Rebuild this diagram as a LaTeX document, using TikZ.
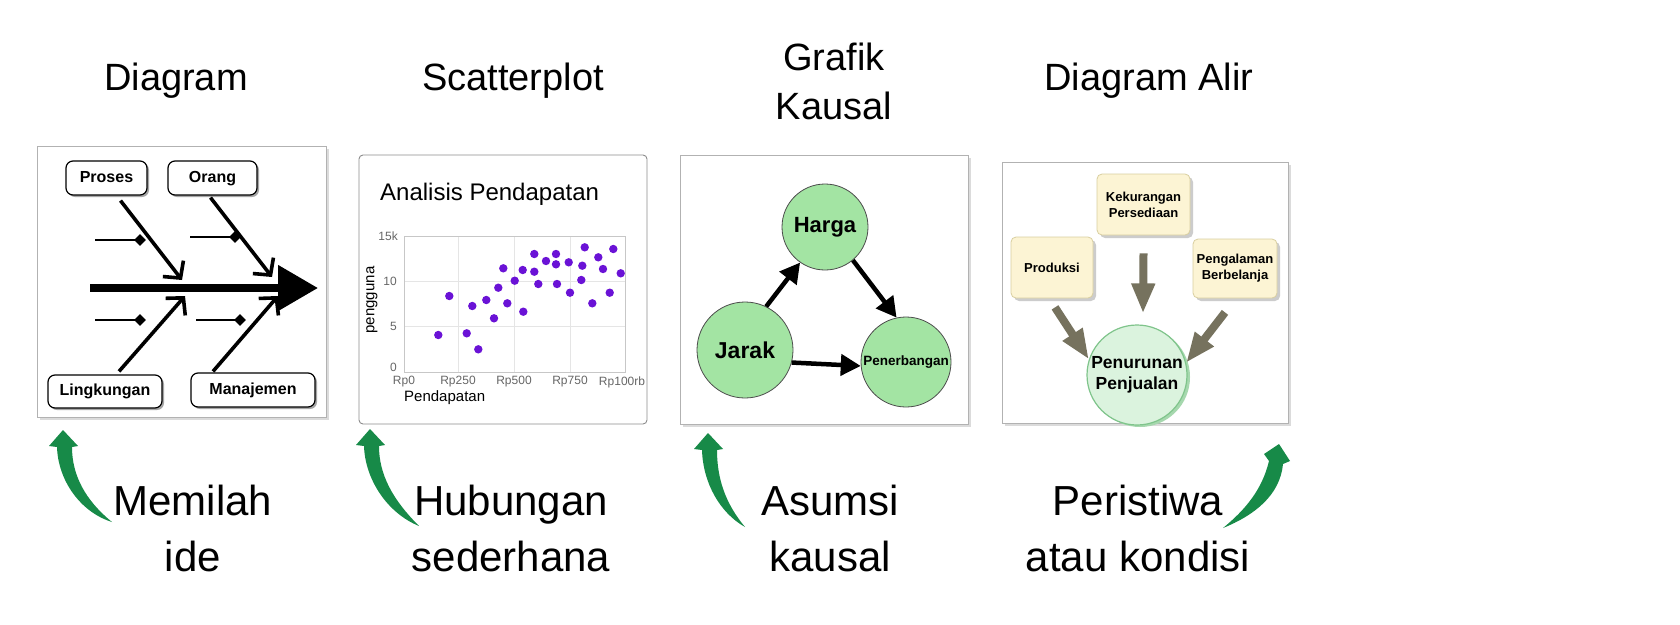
\documentclass[tikz,border=0pt]{standalone}
\usepackage{fontspec}
\setmainfont{Liberation Sans}
\usetikzlibrary{arrows.meta,shapes.geometric,calc}
\definecolor{grn}{HTML}{178A48}
\definecolor{cgreen}{HTML}{A3E4A3}
\definecolor{purp}{HTML}{6A12D6}
\definecolor{olive}{HTML}{76725E}
\definecolor{cream}{HTML}{FCF4D4}
\definecolor{creamb}{HTML}{D9CFA0}
\definecolor{pale}{HTML}{DBF3DE}
\definecolor{paleb}{HTML}{7FC48B}
\definecolor{paledark}{HTML}{A6D8AE}
\tikzset{
  ttl/.style={font=\fontsize{38}{49}\selectfont, align=center, inner sep=0pt},
  capt/.style={font=\fontsize{42}{56}\selectfont, align=center, inner sep=0pt},
  panel/.style={draw=black!30, fill=white, line width=0.8pt,
    preaction={fill=black!14, transform canvas={shift={(3pt,-3pt)}}}},
  fbox/.style={draw=black, line width=1.2pt, fill=white, rounded corners=7pt,
    font=\bfseries\fontsize{16}{18}\selectfont, inner sep=0pt, text height=11.5pt, text depth=3.5pt,
    preaction={fill=black!35, transform canvas={shift={(2pt,-2pt)}}}},
  bone/.style={line width=3.6pt, -{Straight Barb[length=12pt,width=26pt]}},
  twig/.style={line width=2pt},
  dmd/.style={diamond, fill=black, inner sep=0pt, minimum size=12pt},
  cnode/.style={circle, draw=black!70, line width=0.8pt, fill=cgreen, inner sep=0pt, font=\bfseries},
  carr/.style={line width=4.5pt, -{Triangle[length=20pt,width=21pt]}},
  ybox/.style={draw=creamb, line width=0.8pt, fill=cream, rounded corners=5pt, inner sep=0pt,
    align=center, font=\bfseries\fontsize{13}{16}\selectfont,
    preaction={fill=black!20, rounded corners=5pt, transform canvas={shift={(3pt,-3pt)}}}},
  barr/.style={olive, line width=8pt, -{Triangle[length=30pt,width=22pt]}},
  ticklbl/.style={font=\fontsize{12}{14}\selectfont, text=black!60, inner sep=0pt},
  garrow/.style={fill=grn, draw=none},
}
\begin{document}
\begin{tikzpicture}[x=1pt,y=-1pt]
\useasboundingbox[fill=white] (0,0) rectangle (1680,624);

% ---------- titles ----------
\node[ttl, anchor=base] (t1) at (176,90) {Diagram};
\node[ttl, anchor=base] (t2) at (513,90) {Scatterplot};
\node[ttl] (t3) at (834,81) {Grafik\\Kausal};
\node[ttl, anchor=base] (t4) at (1149,90) {Diagram Alir};

% ---------- panel 1: fishbone ----------
\draw[panel] (37,146) rectangle (326,417);
\node[fbox, minimum width=81pt, minimum height=34pt] (proses) at (106.5,178) {Proses};
\node[fbox, minimum width=89pt, minimum height=34pt] (orang) at (212.5,178) {Orang};
\node[fbox, minimum width=114pt, minimum height=33pt] (lingk) at (105,391.5) {Lingkungan};
\node[fbox, minimum width=124pt, minimum height=34pt] (manaj) at (253,390) {Manajemen};
\coordinate (sp1) at (90,288);
\coordinate (sp2) at (318,288);
\draw[line width=8pt, -{Triangle[length=40pt,width=44pt]}] (sp1) -- (sp2);
\coordinate (b1e) at (182,280);
\coordinate (b2e) at (272,277);
\coordinate (b3e) at (185,296);
\coordinate (b4e) at (278,296);
\draw[bone] ($(proses.south)+(14,5)$) -- (b1e);
\draw[bone] ($(orang.south)+(-2,2)$) -- (b2e);
\draw[bone] ($(lingk.north)+(14,-3)$) -- (b3e);
\draw[bone] ($(manaj.north)+(-40,-1)$) -- (b4e);
\node[dmd] (d1) at (140,240) {};
\node[dmd] (d2) at (235,237) {};
\node[dmd] (d3) at (140,320) {};
\node[dmd] (d4) at (240,320) {};
\coordinate (w1) at (95,240);
\coordinate (w2) at (190,237);
\coordinate (w3) at (95,320);
\coordinate (w4) at (196,320);
\draw[twig] (w1) -- (d1.center);
\draw[twig] (w2) -- (d2.center);
\draw[twig] (w3) -- (d3.center);
\draw[twig] (w4) -- (d4.center);

% ---------- panel 2: scatter ----------
\draw[draw=black!45, fill=white, line width=0.9pt, rounded corners=4pt] (359,155) rectangle (647,424);
\node[font=\fontsize{24}{28}\selectfont, anchor=base west, inner sep=0pt] (stitle) at (380,200) {Analisis Pendapatan};
\foreach \gx in {458,514,570} \draw[black!10, line width=0.8pt] (\gx,236) -- (\gx,372);
\foreach \gy in {281,326} \draw[black!10, line width=0.8pt] (404,\gy) -- (625,\gy);
\draw[black!22, line width=1pt] (404,236) rectangle (625,372);
\node[ticklbl, anchor=east] (y15) at (398,236) {15k};
\node[ticklbl, anchor=east] (y10) at (397,281) {10};
\node[ticklbl, anchor=east] (y5) at (397,326) {5};
\node[ticklbl, anchor=east] (y0) at (397,367) {0};
\node[ticklbl] (x0) at (404,382) {Rp0};
\node[ticklbl] (x1) at (458,382) {Rp250};
\node[ticklbl] (x2) at (514,382) {Rp500};
\node[ticklbl] (x3) at (570,382) {Rp750};
\node[ticklbl] (x4) at (622,382) {Rp100rb};
\node[font=\fontsize{15}{18}\selectfont, anchor=west, inner sep=0pt] (xlab) at (404,398) {Pendapatan};
\node[font=\fontsize{15}{18}\selectfont, rotate=90, inner sep=0pt] (ylab) at (372,300) {pengguna};
\foreach \px/\py in {438.3/335, 449.3/296, 466.7/333.3, 478.3/349.3, 472.3/306, 486.3/300,
  494/318.3, 498.3/287.7, 503.3/268.3, 507.3/303.3, 514.7/280.7, 522.7/270, 523.3/311.7,
  534.3/254, 534.3/271.7, 538.3/284, 546/261, 556/254, 556/264.3, 557/284, 568.7/262.3,
  570/292.7, 581.3/280, 582.3/265.7, 584.7/247.3, 592.3/303.3, 598.3/257.3, 603/269,
  609.7/292.7, 613.3/249, 620.7/273.3}
  \fill[purp] (\px,\py) circle (4.2);

% ---------- panel 3: causal ----------
\draw[panel] (680,155) rectangle (968,424);
\node[cnode, minimum size=86pt, font=\bfseries\fontsize{22}{24}\selectfont] (harga) at (825,227) {Harga};
\node[cnode, minimum size=96pt, font=\bfseries\fontsize{23}{26}\selectfont] (jarak) at (745,350) {Jarak};
\node[cnode, minimum size=90pt, font=\bfseries\fontsize{13.5}{15}\selectfont] (pener) at (906,362) {Penerbangan};
\draw[carr] (jarak.64) -- (harga.235);
\draw[carr] (harga.-50) -- (pener.102);
\draw[carr] (jarak.-15) -- (pener.185);

% ---------- panel 4: flow ----------
\draw[panel] (1002,162) rectangle (1288,423);
\node[ybox, minimum width=93pt, minimum height=61pt] (kek) at (1143.5,204.5) {Kekurangan\\Persediaan};
\node[ybox, minimum width=82pt, minimum height=61pt] (prod) at (1052,267.5) {Produksi};
\node[ybox, minimum width=84pt, minimum height=59pt] (peng) at (1235,268.5) {Pengalaman\\Berbelanja};
\fill[paledark] (1140,377) circle (50);
\node[circle, draw=paleb, line width=1.2pt, fill=pale, minimum size=100pt, inner sep=0pt,
  align=center, font=\bfseries\fontsize{17.5}{21}\selectfont] (penj) at (1137,375) {Penurunan\\Penjualan};
\draw[barr] ($(prod.south)+(3,9)$) -- (penj.162);
\draw[barr] ($(kek.south)+(0,18)$) -- ($(penj.north)+(6,-11)$);
\draw[barr] ($(peng.south)+(-10,14)$) -- (penj.14);

% ---------- green arrows ----------
\fill[garrow] (63,430) -- (78,446) -- (72,447) .. controls (72,475) and (85,500) .. (112,522)
  .. controls (80,512) and (58,480) .. (57,447) -- (49,446) -- cycle;
\begin{scope}[shift={(307,-1)}]
\fill[garrow] (63,430) -- (78,446) -- (72,447) .. controls (72,475) and (85,500) .. (112,527)
  .. controls (80,514) and (58,480) .. (57,447) -- (49,446) -- cycle;
\end{scope}
\begin{scope}[shift={(645,3)}]
\fill[garrow] (63,430) -- (78,446) -- (72,447) .. controls (72,475) and (80,500) .. (100,524)
  .. controls (75,510) and (58,480) .. (57,447) -- (49,446) -- cycle;
\end{scope}
\fill[garrow] (1279,444) -- (1290,461) -- (1283,464) .. controls (1280,495) and (1255,515) .. (1223,528)
  .. controls (1245,510) and (1262,490) .. (1269,461) -- (1264,454) -- cycle;

% ---------- captions ----------
\node[capt] (c1) at (193,528) {Memilah\\ide};
\node[capt] (c2) at (511,528) {Hubungan\\sederhana};
\node[capt] (c3) at (830,528) {Asumsi\\kausal};
\node[capt] (c4) at (1138,528) {Peristiwa\\atau kondisi};
\end{tikzpicture}
\end{document}
